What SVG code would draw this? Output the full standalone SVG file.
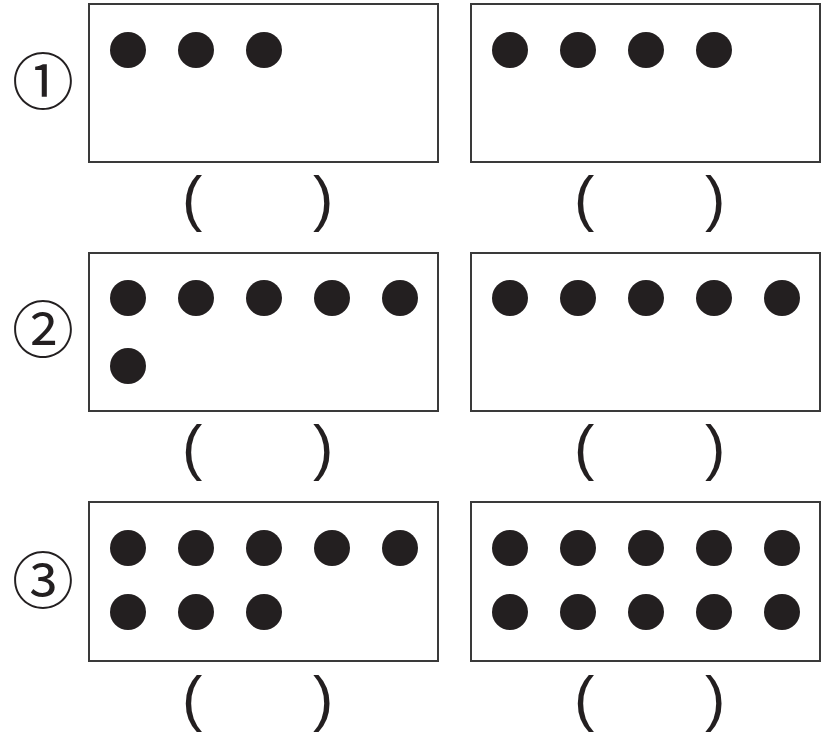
<svg xmlns="http://www.w3.org/2000/svg" width="834" height="734" viewBox="0 0 834 734">
<style>
.box{fill:#fff;stroke:#3a3a3a;stroke-width:2}
.dot{fill:#231f20}
.par{font-family:"Liberation Sans",Arial,sans-serif;font-size:61px;fill:#231f20}
.num{font-family:"Noto Sans CJK JP",sans-serif;font-size:62px;fill:#231f20;text-anchor:middle}
</style>
<rect width="834" height="734" fill="#fff"/>
<g id="row1">
  <text class="num" x="43" y="105">①</text>
  <g id="box1a"><rect class="box" x="89" y="4" width="349" height="158"/>
    <circle class="dot" cx="128" cy="50" r="18"/><circle class="dot" cx="196" cy="50" r="18"/><circle class="dot" cx="264" cy="50" r="18"/>
  </g>
  <g id="box1b"><rect class="box" x="471" y="4" width="349" height="158"/>
    <circle class="dot" cx="510" cy="50" r="18"/><circle class="dot" cx="578" cy="50" r="18"/><circle class="dot" cx="646" cy="50" r="18"/><circle class="dot" cx="714" cy="50" r="18"/>
  </g>
  <text class="par" x="182" y="219">(</text><text class="par" x="313" y="219">)</text>
  <text class="par" x="574" y="219">(</text><text class="par" x="705" y="219">)</text>
</g>
<g id="row2">
  <text class="num" x="43" y="353">②</text>
  <g id="box2a"><rect class="box" x="89" y="253" width="349" height="158"/>
    <circle class="dot" cx="128" cy="298" r="18"/><circle class="dot" cx="196" cy="298" r="18"/><circle class="dot" cx="264" cy="298" r="18"/><circle class="dot" cx="332" cy="298" r="18"/><circle class="dot" cx="400" cy="298" r="18"/>
    <circle class="dot" cx="128" cy="366" r="18"/>
  </g>
  <g id="box2b"><rect class="box" x="471" y="253" width="349" height="158"/>
    <circle class="dot" cx="510" cy="298" r="18"/><circle class="dot" cx="578" cy="298" r="18"/><circle class="dot" cx="646" cy="298" r="18"/><circle class="dot" cx="714" cy="298" r="18"/><circle class="dot" cx="782" cy="298" r="18"/>
  </g>
  <text class="par" x="182" y="468">(</text><text class="par" x="313" y="468">)</text>
  <text class="par" x="574" y="468">(</text><text class="par" x="705" y="468">)</text>
</g>
<g id="row3">
  <text class="num" x="43" y="604">③</text>
  <g id="box3a"><rect class="box" x="89" y="502" width="349" height="159"/>
    <circle class="dot" cx="128" cy="548" r="18"/><circle class="dot" cx="196" cy="548" r="18"/><circle class="dot" cx="264" cy="548" r="18"/><circle class="dot" cx="332" cy="548" r="18"/><circle class="dot" cx="400" cy="548" r="18"/>
    <circle class="dot" cx="128" cy="612" r="18"/><circle class="dot" cx="196" cy="612" r="18"/><circle class="dot" cx="264" cy="612" r="18"/>
  </g>
  <g id="box3b"><rect class="box" x="471" y="502" width="349" height="159"/>
    <circle class="dot" cx="510" cy="548" r="18"/><circle class="dot" cx="578" cy="548" r="18"/><circle class="dot" cx="646" cy="548" r="18"/><circle class="dot" cx="714" cy="548" r="18"/><circle class="dot" cx="782" cy="548" r="18"/>
    <circle class="dot" cx="510" cy="612" r="18"/><circle class="dot" cx="578" cy="612" r="18"/><circle class="dot" cx="646" cy="612" r="18"/><circle class="dot" cx="714" cy="612" r="18"/><circle class="dot" cx="782" cy="612" r="18"/>
  </g>
  <text class="par" x="182" y="719">(</text><text class="par" x="313" y="719">)</text>
  <text class="par" x="574" y="719">(</text><text class="par" x="705" y="719">)</text>
</g>
</svg>
